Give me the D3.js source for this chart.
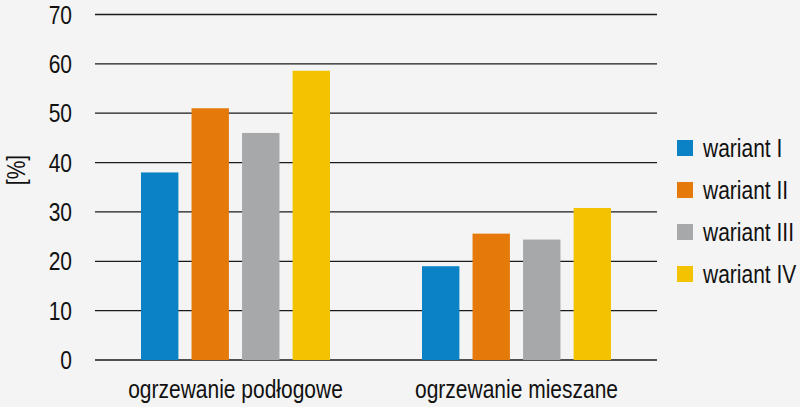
<!DOCTYPE html>
<html><head><meta charset="utf-8">
<script src="https://cdn.jsdelivr.net/npm/d3@7"></script>
<style>
html,body{margin:0;padding:0;background:#f4f4f4;}
svg{display:block;}
text{font-family:"Liberation Sans",Arial,sans-serif;fill:#111;}
</style></head>
<body><svg id="c" width="800" height="407"></svg>
<script>
const categories = ["ogrzewanie podłogowe", "ogrzewanie mieszane"];
const seriesNames = ["wariant I", "wariant II", "wariant III", "wariant IV"];
const wariantI = [38, 19];
const wariantII = [51, 25.6];
const wariantIII = [46, 24.4];
const wariantIV = [58.6, 30.8];
const yTicks = [0, 10, 20, 30, 40, 50, 60, 70];
const colors = ["#0a82c5", "#e57a0b", "#a7a8aa", "#f3c200"];

const seriesValues = [wariantI, wariantII, wariantIII, wariantIV];
const svg = d3.select("#c");
const mLeft = 95, mRight = 657, mTop = 14.5, mBottom = 360;
const SX = 0.84; // horizontal condensation of text

const y = d3.scaleLinear().domain([0, 70]).range([mBottom, mTop]);
const x0 = d3.scaleBand().domain(categories).range([mLeft, mRight]).padding(0);
const x1 = d3.scaleBand().domain(seriesNames).range([46, 235]).paddingInner(0.26).paddingOuter(0);

// gridlines
svg.append("g").selectAll("line").data(yTicks).join("line")
  .attr("x1", mLeft).attr("x2", mRight)
  .attr("y1", d => y(d)).attr("y2", d => y(d))
  .attr("stroke", "#1a1a1a").attr("stroke-width", 1.3);

// y tick labels
svg.append("g").selectAll("text").data(yTicks).join("text")
  .attr("transform", d => "translate(72," + y(d) + ") scale(" + SX + ",1)")
  .attr("dy", "0.36em")
  .attr("text-anchor", "end").attr("font-size", 25)
  .text(d => d);

// y label
svg.append("text").attr("transform", "translate(25,170) rotate(-90) scale(" + SX + ",1)")
  .attr("text-anchor", "middle").attr("font-size", 25).text("[%]");

// bars
const groups = svg.append("g").selectAll("g").data(categories).join("g")
  .attr("transform", d => "translate(" + x0(d) + ",0)");
groups.selectAll("rect").data((c, ci) => seriesNames.map((s, si) => ({s, si, v: seriesValues[si][ci]})))
  .join("rect")
  .attr("x", d => x1(d.s)).attr("width", x1.bandwidth())
  .attr("y", d => y(d.v)).attr("height", d => y(0) - y(d.v))
  .attr("fill", d => colors[d.si]);

// category labels
svg.append("g").selectAll("text").data(categories).join("text")
  .attr("transform", d => "translate(" + (x0(d) + x0.bandwidth() / 2) + ",398) scale(" + SX + ",1)")
  .attr("text-anchor", "middle").attr("font-size", 25)
  .text(d => d);

// legend
const lg = svg.append("g").selectAll("g").data(seriesNames).join("g")
  .attr("transform", (d, i) => "translate(677," + (140 + i * 42) + ")");
lg.append("rect").attr("width", 16).attr("height", 16).attr("fill", (d, i) => colors[i]);
lg.append("text").attr("transform", "translate(26,8) scale(" + SX + ",1)")
  .attr("dy", "0.36em").attr("font-size", 25).text(d => d);
</script></body></html>
